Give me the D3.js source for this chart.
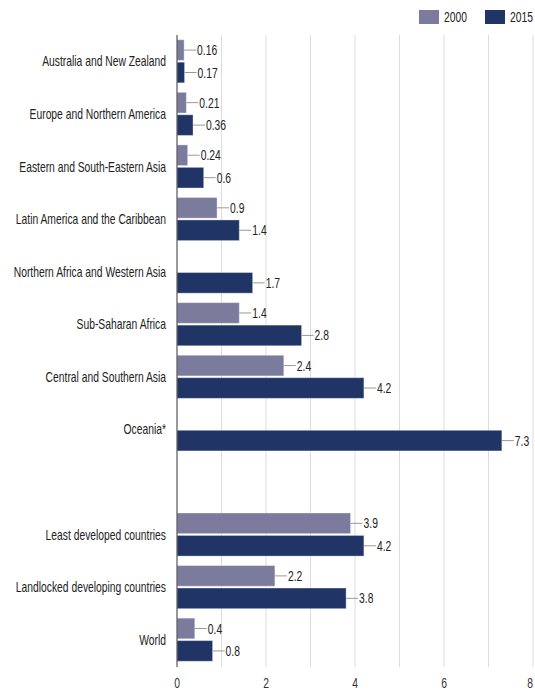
<!DOCTYPE html>
<html><head><meta charset="utf-8">
<script src="https://cdn.jsdelivr.net/npm/d3@7"></script>
<style>body{margin:0;background:#fff}</style>
</head><body>
<svg id="c" width="535" height="692"></svg>
<script>
const categories = ["Australia and New Zealand","Europe and Northern America","Eastern and South-Eastern Asia","Latin America and the Caribbean","Northern Africa and Western Asia","Sub-Saharan Africa","Central and Southern Asia","Oceania*","","Least developed countries","Landlocked developing countries","World"];
const values2000 = [0.16,0.21,0.24,0.9,null,1.4,2.4,null,null,3.9,2.2,0.4];
const values2015 = [0.17,0.36,0.6,1.4,1.7,2.8,4.2,7.3,null,4.2,3.8,0.8];
const seriesNames = ["2000","2015"];
const xTicks = [0,2,4,6,8];
const gridTicks = [1,2,3,4,5,6,7,8];

const colors = {"2000":"#7b7b9e","2015":"#203566"};
const font = "'Liberation Sans',Arial,sans-serif";
const svg = d3.select("#c");
const x = d3.scaleLinear().domain([0,8]).range([177,533]);
const y = d3.scaleBand().domain(d3.range(categories.length)).range([35,666]).paddingInner(0.18).paddingOuter(0.09);
const ys = d3.scaleBand().domain(seriesNames).range([0,y.bandwidth()]).paddingInner(0.08);

function txt(g, sx, sy){ return g.attr("transform",`translate(${sx},${sy}) scale(0.86,1.2)`); }

// grid
svg.append("g").selectAll("line").data(gridTicks).join("line")
  .attr("x1",d=>x(d)).attr("x2",d=>x(d)).attr("y1",35).attr("y2",667)
  .attr("stroke","#dcdcdc").attr("stroke-width",1);

// bars
const data = [];
categories.forEach((c,i)=>{
  [[seriesNames[0],values2000[i]],[seriesNames[1],values2015[i]]].forEach(([s,v])=>{
    if(v!=null) data.push({i,s,v});
  });
});
svg.append("g").selectAll("rect").data(data).join("rect")
  .attr("x",x(0)).attr("y",d=>y(d.i)+ys(d.s))
  .attr("width",d=>x(d.v)-x(0)).attr("height",ys.bandwidth())
  .attr("fill",d=>colors[d.s]).attr("stroke","rgba(255,255,255,0.35)").attr("stroke-width",1);

// leader lines + labels
const lg = svg.append("g");
lg.selectAll("line").data(data).join("line")
  .attr("x1",d=>x(d.v)).attr("x2",d=>x(d.v)+12)
  .attr("y1",d=>y(d.i)+ys(d.s)+ys.bandwidth()/2).attr("y2",d=>y(d.i)+ys(d.s)+ys.bandwidth()/2)
  .attr("stroke","#999").attr("stroke-width",1);
lg.selectAll("text").data(data).join("text")
  .each(function(d){ txt(d3.select(this), x(d.v)+13, y(d.i)+ys(d.s)+ys.bandwidth()/2); })
  .attr("dy","0.35em").attr("font-family",font).attr("font-size",12).attr("fill","#222")
  .text(d=>String(d.v));

// category labels
svg.append("g").selectAll("text").data(categories).join("text")
  .each(function(d,i){ txt(d3.select(this), 166, y(i)+y.bandwidth()/2); })
  .attr("dy","0.35em").attr("text-anchor","end").attr("font-family",font).attr("font-size",12).attr("fill","#222")
  .text(d=>d);

// axis line
svg.append("line").attr("x1",x(0)).attr("x2",x(0)).attr("y1",35).attr("y2",667).attr("stroke","#555").attr("stroke-width",1.2);

// x tick labels
svg.append("g").selectAll("text").data(xTicks).join("text")
  .each(function(d){ txt(d3.select(this), Math.min(x(d),530), 683); })
  .attr("dy","0.35em").attr("text-anchor","middle").attr("font-family",font).attr("font-size",12).attr("fill","#333")
  .text(d=>d);

// legend
const legX = [419,485];
seriesNames.forEach((s,k)=>{
  svg.append("rect").attr("x",legX[k]).attr("y",10).attr("width",20).attr("height",14).attr("fill",colors[s]);
  txt(svg.append("text"), legX[k]+25, 17).attr("dy","0.35em").attr("font-family",font).attr("font-size",12).attr("fill","#222").text(s);
});
</script>
</body></html>
